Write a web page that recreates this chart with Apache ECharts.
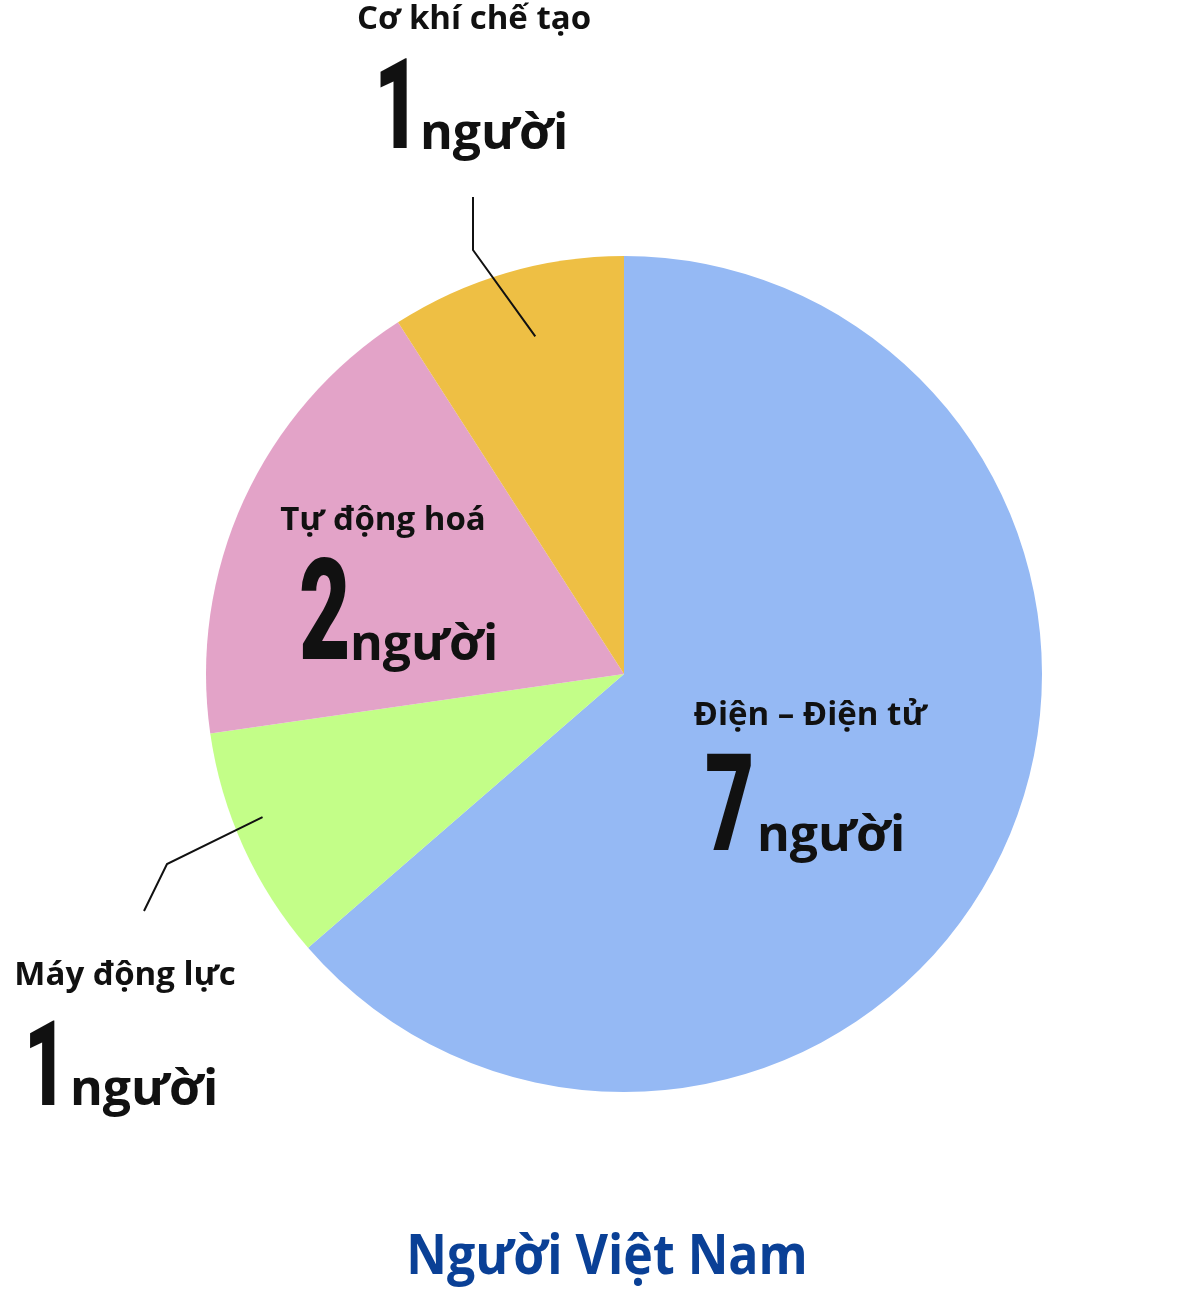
<!DOCTYPE html>
<html><head><meta charset="utf-8">
<script src="https://cdn.jsdelivr.net/npm/echarts@6/dist/echarts.min.js"></script>
<style>html,body{margin:0;padding:0;background:#fff}#c{width:1197px;height:1289px}</style>
</head><body><div id="c"></div>
<script>
// ---- data ----
var categories = ['Điện – Điện tử', 'Máy động lực', 'Tự động hoá', 'Cơ khí chế tạo'];
var values = [7, 1, 2, 1];
var unitText = 'người';
var titleText = 'Người Việt Nam';

// ---- styles / layout ----
var colors = ['#95b9f4', '#c3fe88', '#e3a3c8', '#eebf44'];
var CX = 624, CY = 674, R = 418;
var NUM_K = 0.77, UNIT_K = 0.83, UNIT_SIZE = 50;
// label layout: name centre x/middle y, number left x & size, shared baseline y, unit left x
var labelLayout = [
  {nx: 810, ny: 716, numX: 705, numSize: 135, baseY: 853, unitX: 757},
  {nx: 125, ny: 976, numX: 24,  numSize: 118, baseY: 1107, unitX: 70},
  {nx: 383, ny: 521, numX: 299, numSize: 141, baseY: 662, unitX: 350},
  {nx: 474, ny: 20,  numX: 374, numSize: 127, baseY: 151, unitX: 420}
];
// leader lines: point inside slice (fraction of angle, fraction of radius) then elbow/end
var leaders = {
  3: {af: 0.55, rf: 0.835, pts: [[473, 250], [473, 197]]},
  1: {af: 0.59, rf: 0.93, pts: [[167, 864], [144, 911]]}
};

var total = values.reduce(function (a, b) { return a + b; }, 0);
var graphics = [];
var acc = 0;
values.forEach(function (v, i) {
  var L = labelLayout[i];
  graphics.push({
    type: 'text', x: L.nx, y: L.ny, z: 100,
    style: {text: categories[i], fill: '#111', font: 'bold 33px "Open Sans", "Noto Sans", sans-serif',
      align: 'center', verticalAlign: 'middle'}
  });
  graphics.push({
    type: 'text', x: L.numX, y: L.baseY - NUM_K * L.numSize, scaleX: 0.63, z: 100,
    style: {text: String(v), fill: '#111', font: '900 ' + L.numSize + 'px Roboto, "Noto Sans", sans-serif',
      align: 'left', verticalAlign: 'top'}
  });
  graphics.push({
    type: 'text', x: L.unitX, y: L.baseY - UNIT_K * UNIT_SIZE, z: 100,
    style: {text: unitText, fill: '#111', font: 'bold ' + UNIT_SIZE + 'px "Open Sans", "Noto Sans", sans-serif',
      align: 'left', verticalAlign: 'top'}
  });
  if (leaders[i]) {
    var ld = leaders[i];
    var a0 = acc / total * 360, a1 = (acc + v) / total * 360;
    var cw = a0 + (a1 - a0) * ld.af; // clockwise from top
    var rad = (90 - cw) * Math.PI / 180;
    var sx = CX + R * ld.rf * Math.cos(rad), sy = CY - R * ld.rf * Math.sin(rad);
    graphics.push({
      type: 'polyline', z: 100,
      shape: {points: [[sx, sy]].concat(ld.pts)},
      style: {stroke: '#111', lineWidth: 2, fill: null}
    });
  }
  acc += v;
});
graphics.push({
  type: 'text', x: 607, y: 1258, scaleX: 0.91, z: 100,
  style: {text: titleText, fill: '#0a4096', font: 'bold 55px "Open Sans", "Noto Sans", sans-serif',
    align: 'center', verticalAlign: 'middle'}
});

var chart = echarts.init(document.getElementById('c'));
chart.setOption({
  animation: false,
  backgroundColor: '#fff',
  series: [{
    type: 'pie',
    center: [CX, CY],
    radius: [0, R],
    startAngle: 90,
    clockwise: true,
    silent: true,
    label: {show: false},
    labelLine: {show: false},
    itemStyle: {borderWidth: 0},
    data: categories.map(function (c, i) {
      return {name: c, value: values[i], itemStyle: {color: colors[i]}};
    })
  }],
  graphic: graphics
});
</script>
</body></html>
